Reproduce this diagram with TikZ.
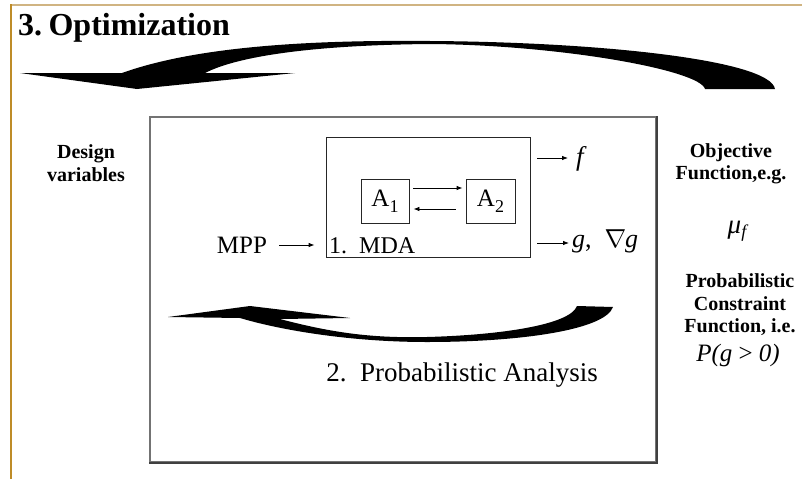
\RequirePackage{fix-cm}
\documentclass[tikz,border=0pt]{standalone}
\usepackage{fontspec}
\setmainfont{Liberation Serif}
\usetikzlibrary{calc,arrows.meta}
\definecolor{goldline}{RGB}{190,140,40}
\definecolor{tanline}{RGB}{208,180,130}
\newcommand{\lowsub}[1]{\raisebox{-0.22em}{\fontsize{18}{18}\selectfont #1}}
\tikzset{
  frame/.style={draw=black!55, line width=1.5pt, minimum width=506pt, minimum height=345pt, inner sep=0pt},
  box/.style={draw=black!85, line width=0.8pt, inner sep=0pt},
  arr/.style={line width=0.8pt, -{Latex[length=6pt,width=4.5pt]}},
  plain/.style={inner sep=0pt, font=\fontsize{25}{25}\selectfont},
  side/.style={inner sep=0pt, align=center, font=\bfseries\fontsize{20}{22.5}\selectfont},
  swoosh/.style={fill=black, draw=none}
}
\begin{document}
\begin{tikzpicture}[x=1pt,y=-1pt]
\useasboundingbox (0,0) rectangle (802,479);
\fill[white] (0,0) rectangle (802,479);

% slide edges
\draw[tanline, line width=2pt] (10,5) -- (802,5);
\draw[goldline, line width=2pt] (10.5,4) -- (10.5,479);

% title
\node[anchor=base west, inner sep=0pt, font=\bfseries\fontsize{32}{32}\selectfont] (title) at (18,35) {3.\kern0.2em Optimization};

% outer optimization loop arrow
\path[swoosh] (20,73) -- (122,73)
  .. controls (200,45) and (320,40) .. (430,41)
  .. controls (600,42) and (770,60) .. (775,89)
  -- (705,89)
  .. controls (700,70) and (560,45) .. (430,44)
  .. controls (320,45) and (240,55) .. (205,73)
  -- (295,73) -- (137,89) -- cycle;

% probabilistic analysis frame
\node[frame] (outer) at (403,289.5) {};
\draw[black!75, line width=1.5pt] (outer.south west) -- (outer.south east) -- (outer.north east);

% MDA block
\node[box, minimum width=204pt, minimum height=120pt] (mda) at (428,197) {};
\node[box, minimum width=48pt, minimum height=44pt, font=\fontsize{25}{25}\selectfont] (a1) at (385,201) {A\lowsub{1}};
\node[box, minimum width=49pt, minimum height=44pt, font=\fontsize{25}{25}\selectfont] (a2) at (490.5,201) {A\lowsub{2}};
\node[plain, anchor=base west, font=\fontsize{24}{24}\selectfont] (mdalabel) at (329,253) {1.\ \ MDA};

\draw[arr] ([shift={(4,-13)}]a1.east) -- ([shift={(-3,-13)}]a2.west);
\draw[arr] ([shift={(-10,8)}]a2.west) -- ([shift={(4,8)}]a1.east);

% input
\node[plain] (mpp) at (242,245) {MPP};
\draw[arr] ([xshift=12pt]mpp.east) -- ($(mda.west|-mpp.east)+(-11,0)$);

% outputs
\node[plain, anchor=west, font=\itshape\fontsize{27}{27}\selectfont] (fout) at (576,159) {f};
\node[plain, anchor=west, font=\fontsize{26}{26}\selectfont] (gout) at (572,241) {\textit{g},\ \ $\nabla$\kern-0.05em\textit{g}};
\draw[arr] ($(mda.east|-fout.west)+(7,-1)$) -- ([shift={(-8,-1)}]fout.west);
\draw[arr] ($(mda.east|-gout.west)+(7,2)$) -- ([shift={(-3,2)}]gout.west);

% inner loop arrow
\path[swoosh] (168,317) -- (250,306) -- (350,318) -- (280,319)
  .. controls (340,335) and (380,338) .. (427,337)
  .. controls (500,335) and (570,325) .. (577,306)
  -- (613,307)
  .. controls (605,330) and (520,342) .. (427,342)
  .. controls (350,342) and (280,330) .. (240,318) -- cycle;

\node[plain, font=\fontsize{27}{27}\selectfont] (prob) at (462,375) {2.\ \ Probabilistic Analysis};

% side labels
\node[side] (design) at (86,163) {Design\\variables};
\node[side] (objective) at (731,164) {Objective\\Function,e.g.};
\node[inner sep=0pt, font=\itshape\fontsize{27}{27}\selectfont] (mu) at (737,231) {μ\raisebox{-0.3ex}{\fontsize{18}{18}\selectfont f}};
\node[side] (constraint) at (740,305) {Probabilistic\\Constraint\\Function, i.e.};
\node[inner sep=0pt, font=\itshape\fontsize{25}{25}\selectfont] (pg) at (738,355) {P(g \textup{>} 0)};
\end{tikzpicture}
\end{document}
